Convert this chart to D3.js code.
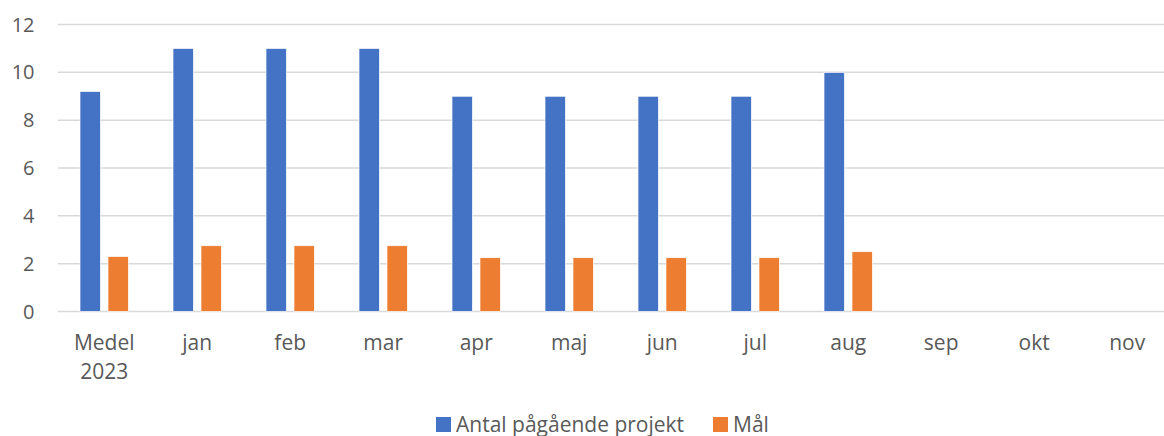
<!DOCTYPE html>
<html>
<head>
<meta charset="utf-8">
<script src="https://cdn.jsdelivr.net/npm/d3@7"></script>
<style>
  body { margin: 0; background: #fff; }
  svg text { font-family: "Open Sans", sans-serif; fill: #595959; }
</style>
</head>
<body>
<div id="chart"></div>
<script>
// chart data
var categories = ['Medel\n2023', 'jan', 'feb', 'mar', 'apr', 'maj', 'jun', 'jul', 'aug', 'sep', 'okt', 'nov']
var projekt = [9.2, 11, 11, 11, 9, 9, 9, 9, 10, null, null, null]
var mal = [2.3, 2.75, 2.75, 2.75, 2.25, 2.25, 2.25, 2.25, 2.5, null, null, null]
var seriesNames = ['Antal pågående projekt', 'Mål']
var yTicks = [0, 2, 4, 6, 8, 10, 12]

var width = 1164
var height = 436
var colors = ['#4472C4', '#ED7D31']

var svg = d3.select('#chart')
  .append('svg')
  .attr('width', width)
  .attr('height', height)

var x = d3.scaleBand()
  .domain(d3.range(categories.length))
  .range([57.7, 57.7 + 93 * categories.length])

var y = d3.scaleLinear()
  .domain([0, 12])
  .range([311.5, 24.5])

// gridlines
svg.selectAll('.grid')
  .data(yTicks)
  .enter()
  .append('line')
  .attr('x1', 57.7)
  .attr('x2', width)
  .attr('y1', d => y(d))
  .attr('y2', d => y(d))
  .style('stroke', '#D9D9D9')
  .style('stroke-width', 1.5)

// y labels
svg.selectAll('.ylab')
  .data(yTicks)
  .enter()
  .append('text')
  .attr('x', 34.5)
  .attr('y', d => y(d))
  .attr('dy', '0.35em')
  .attr('text-anchor', 'end')
  .style('font-size', '20px')
  .text(d => d)

// bars, inner band per series
var inner = d3.scaleBand()
  .domain([0, 1])
  .range([22.3, 70.7])
  .paddingInner(0.27)

var series = [projekt, mal]
series.forEach(function (vals, s) {
  svg.selectAll('.bar' + s)
    .data(vals.map((v, i) => ({ v: v, i: i })).filter(d => d.v != null))
    .enter()
    .append('rect')
    .attr('x', d => x(d.i) + inner(s))
    .attr('width', inner.bandwidth())
    .attr('y', d => y(d.v))
    .attr('height', d => y(0) - y(d.v))
    .style('fill', colors[s])
    .style('stroke', '#fff')
    .style('stroke-width', 0.7)
})

// x labels
categories.forEach(function (c, i) {
  var lines = c.split('\n')
  var t = svg.append('text')
    .attr('x', x(i) + x.bandwidth() / 2)
    .attr('y', 350)
    .attr('text-anchor', 'middle')
    .style('font-size', '21px')
  lines.forEach(function (l, k) {
    t.append('tspan')
      .attr('x', x(i) + x.bandwidth() / 2)
      .attr('dy', k === 0 ? 0 : 29)
      .text(l)
  })
})

// legend
var legendX = [436, 713]
seriesNames.forEach(function (n, s) {
  svg.append('rect')
    .attr('x', legendX[s])
    .attr('y', 417)
    .attr('width', 15)
    .attr('height', 15)
    .style('fill', colors[s])
  svg.append('text')
    .attr('x', legendX[s] + 20)
    .attr('y', 425)
    .attr('dy', '0.35em')
    .style('font-size', '21px')
    .text(n)
})
</script>
</body>
</html>
